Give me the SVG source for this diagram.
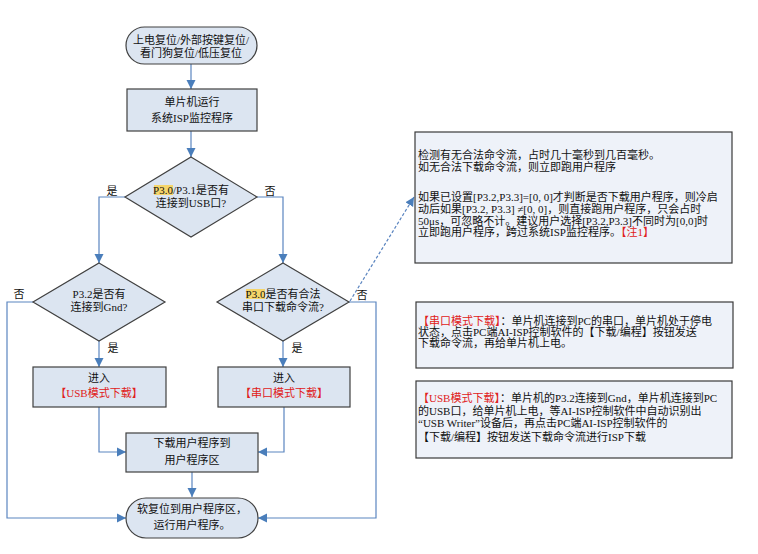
<svg xmlns="http://www.w3.org/2000/svg" width="758" height="554" viewBox="0 0 758 554">
<defs>
<marker id="ah" markerWidth="10" markerHeight="10" refX="9" refY="5" orient="auto" markerUnits="userSpaceOnUse">
<path d="M0,0.5 L9,5 L0,9.5 Z" fill="#4a7ebb"/>
</marker>
<style>
.node{fill:#dce5f1;stroke:#404040;stroke-width:1.2}
.note{fill:#eef2f9;stroke:#3a3a3a;stroke-width:1.2}
.c{fill:none;stroke:#5b85c0;stroke-width:1.2}
.t{font-family:"Liberation Serif","Noto Sans CJK SC",serif;font-size:11px;fill:#111}
.m{text-anchor:middle}
.r{fill:#e02020}
.hl{fill:#f5d56a}
</style>
</defs>
<rect width="758" height="554" fill="#ffffff"/>
<g id="connectors">
<path class="c" d="M191,64 V89" marker-end="url(#ah)"/>
<path class="c" d="M191,131 V157" marker-end="url(#ah)"/>
<path class="c" d="M125,197 H99 V263" marker-end="url(#ah)"/>
<path class="c" d="M257,197 H283 V263" marker-end="url(#ah)"/>
<path class="c" d="M99,341 V367" marker-end="url(#ah)"/>
<path class="c" d="M33,302 H7 V518 H126" marker-end="url(#ah)"/>
<path class="c" d="M283,341 V367" marker-end="url(#ah)"/>
<path class="c" d="M349,302 H376 V518 H258" marker-end="url(#ah)"/>
<path class="c" d="M99,407 V452 H126" marker-end="url(#ah)"/>
<path class="c" d="M284,407 V452 H258" marker-end="url(#ah)"/>
<path class="c" d="M192,472 V497" marker-end="url(#ah)"/>
<path class="c" d="M350,301 L414,197" stroke-dasharray="3,2" marker-end="url(#ah)"/>
<text class="t m" x="112" y="195">是</text>
<text class="t m" x="270" y="195">否</text>
<text class="t m" x="19" y="298">否</text>
<text class="t m" x="113" y="352">是</text>
<text class="t m" x="297" y="352">是</text>
<text class="t m" x="362" y="299">否</text>
</g>
<g id="start">
<rect class="node" x="126" y="27" width="131" height="37" rx="18.5"/>
<text class="t m" x="191" y="44">上电复位/外部按键复位/</text>
<text class="t m" x="191" y="57">看门狗复位/低压复位</text>
</g>
<g id="run-isp">
<rect class="node" x="127" y="89" width="130" height="42"/>
<text class="t m" x="192" y="106">单片机运行</text>
<text class="t m" x="192" y="122">系统ISP监控程序</text>
</g>
<g id="dec-usb">
<polygon class="node" points="191,157 257,197 191,237 125,197"/>
<rect class="hl" x="154" y="185" width="19" height="10"/>
<text class="t m" x="191" y="194">P3.0/P3.1是否有</text>
<text class="t m" x="191" y="207">连接到USB口?</text>
</g>
<g id="dec-gnd">
<polygon class="node" points="99,263 165,302 99,341 33,302"/>
<text class="t m" x="99" y="298">P3.2是否有</text>
<text class="t m" x="99" y="311">连接到Gnd?</text>
</g>
<g id="dec-serial">
<polygon class="node" points="283,263 349,302 283,341 217,302"/>
<rect class="hl" x="246" y="289" width="19" height="10"/>
<text class="t m" x="283" y="298">P3.0是否有合法</text>
<text class="t m" x="283" y="311">串口下载命令流?</text>
</g>
<g id="usb-mode">
<rect class="node" x="33" y="367" width="133" height="40"/>
<text class="t m" x="99" y="382">进入</text>
<text class="t m r" x="99" y="397">【USB模式下载】</text>
</g>
<g id="serial-mode">
<rect class="node" x="218" y="367" width="132" height="40"/>
<text class="t m" x="284" y="382">进入</text>
<text class="t m r" x="284" y="397">【串口模式下载】</text>
</g>
<g id="download">
<rect class="node" x="126" y="433" width="132" height="39"/>
<text class="t m" x="192" y="447">下载用户程序到</text>
<text class="t m" x="192" y="464">用户程序区</text>
</g>
<g id="end">
<rect class="node" x="126" y="498" width="132" height="40" rx="20"/>
<text class="t m" x="192" y="513">软复位到用户程序区，</text>
<text class="t m" x="192" y="529">运行用户程序。</text>
</g>
<g id="note-detect">
<rect class="note" x="415" y="132" width="317" height="131"/>
<text class="t" x="418" y="159">检测有无合法命令流，占时几十毫秒到几百毫秒。</text>
<text class="t" x="418" y="171">如无合法下载命令流，则立即跑用户程序</text>
<text class="t" x="418" y="201">如果已设置[P3.2,P3.3]=[0, 0]才判断是否下载用户程序，则冷启</text>
<text class="t" x="418" y="213">动后如果[P3.2, P3.3] ≠[0, 0]，则直接跑用户程序，只会占时</text>
<text class="t" x="418" y="225">50μs，可忽略不计。建议用户选择[P3.2,P3.3]不同时为[0,0]时</text>
<text class="t" x="418" y="236">立即跑用户程序，跨过系统ISP监控程序。<tspan class="r">【注1】</tspan></text>
</g>
<g id="note-serial">
<rect class="note" x="416" y="302" width="317" height="66"/>
<text class="t" x="418" y="325"><tspan class="r">【串口模式下载】</tspan>：单片机连接到PC的串口，单片机处于停电</text>
<text class="t" x="418" y="336">状态，点击PC端AI-ISP控制软件的【下载/编程】按钮发送</text>
<text class="t" x="418" y="347">下载命令流，再给单片机上电。</text>
</g>
<g id="note-usb">
<rect class="note" x="416" y="381" width="316" height="77"/>
<text class="t" x="418" y="402"><tspan class="r">【USB模式下载】</tspan>：单片机的P3.2连接到Gnd，单片机连接到PC</text>
<text class="t" x="418" y="415">的USB口，给单片机上电，等AI-ISP控制软件中自动识别出</text>
<text class="t" x="418" y="427">“USB Writer”设备后，再点击PC端AI-ISP控制软件的</text>
<text class="t" x="418" y="441">【下载/编程】按钮发送下载命令流进行ISP下载</text>
</g>
</svg>
